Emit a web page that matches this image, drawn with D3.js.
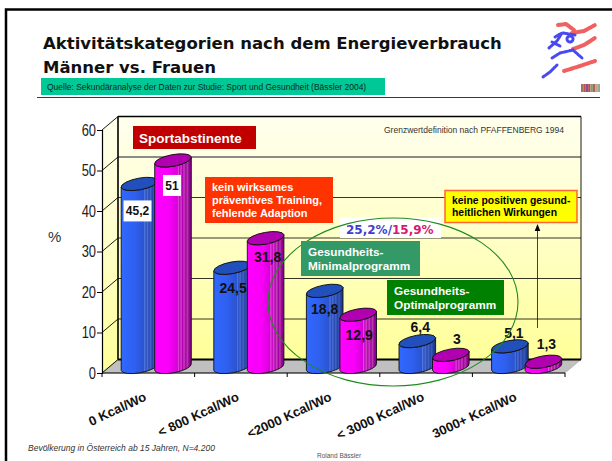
<!DOCTYPE html>
<html>
<head>
<meta charset="utf-8">
<style>
html, body { margin: 0; padding: 0; background: #fff; }
svg { display: block; }
text { font-family: "Liberation Sans", Arial, sans-serif; }
</style>
<script src="https://cdn.jsdelivr.net/npm/d3@7"></script>
</head>
<body>
<div id="chart"></div>
<script>
var categories = ['0 Kcal/Wo', '< 800 Kcal/Wo', '<2000 Kcal/Wo', '< 3000 Kcal/Wo', '3000+ Kcal/Wo'];
var seriesNames = ['Männer', 'Frauen'];
var maleValues = [45.2, 24.5, 18.8, 6.4, 5.1];
var femaleValues = [51, 31.8, 12.9, 3, 1.3];
var yTicks = [0, 10, 20, 30, 40, 50, 60];

var width = 612;
var height = 461;

var svg = d3.select('#chart').append('svg')
    .attr('width', width)
    .attr('height', height);

var defs = svg.append('defs');

function addGradient(id, stops, horizontal) {
    var g = defs.append('linearGradient').attr('id', id)
        .attr('x1', 0).attr('y1', 0)
        .attr('x2', horizontal ? 1 : 0).attr('y2', horizontal ? 0 : 1);
    stops.forEach(function(s) {
        g.append('stop').attr('offset', s[0]).attr('stop-color', s[1]);
    });
}

addGradient('wall', [[0, '#ffffee'], [0.45, '#ffffcc'], [1, '#ffff99']]);
addGradient('blueBar', [[0, '#3068ff'], [0.35, '#2f60f0'], [0.62, '#2a54d0'], [0.64, '#5478dc'], [0.68, '#2a50c4'],
    [0.72, '#4c6ed0'], [0.76, '#2848b8'], [0.8, '#4464c4'], [0.85, '#2444aa'], [0.89, '#3c5ab4'], [0.94, '#20409c'], [1, '#1c3684']], true);
addGradient('pinkBar', [[0, '#ff00ff'], [0.4, '#f800f8'], [0.62, '#d800d8'], [0.64, '#e050d8'], [0.68, '#c400c4'],
    [0.72, '#d048c4'], [0.76, '#b400b4'], [0.8, '#c444b8'], [0.85, '#a400a4'], [0.89, '#b43ca8'], [0.94, '#980098'], [1, '#800080']], true);

// front axis scale, the back wall is this one shifted by depth
var depthX = 16;
var depthY = 13.5;
var y = d3.scaleLinear().domain([0, 60]).range([373, 130]);
var x0 = d3.scaleBand().domain(categories).range([102, 565]);
var x1 = d3.scalePoint().domain(seriesNames).range([37.5, 71]);

var frame = svg.append('g');
frame.append('path')
    .attr('d', 'M6,461V9.5H612')
    .attr('fill', 'none')
    .attr('stroke', '#000')
    .attr('stroke-width', 2.5);

// walls + floor
var wallLeft = x0.range()[0];
var wallRight = x0.range()[1];
var chart = svg.append('g');

chart.append('rect')
    .attr('x', wallLeft + depthX).attr('y', y(60) - depthY)
    .attr('width', wallRight - wallLeft).attr('height', y(0) - y(60))
    .attr('fill', 'url(#wall)');
chart.append('path')
    .attr('d', 'M' + wallLeft + ',' + y(0) + 'V' + y(60) + 'l' + depthX + ',' + (-depthY) + 'V' + (y(0) - depthY) + 'Z')
    .attr('fill', 'url(#wall)');
chart.append('path')
    .attr('d', 'M' + wallLeft + ',' + y(0) + 'H' + wallRight + 'l' + depthX + ',' + (-depthY) + 'H' + (wallLeft + depthX) + 'Z')
    .attr('fill', '#c0c0c0')
    .attr('stroke', '#999')
    .attr('stroke-width', 0.5);

// gridlines
yTicks.forEach(function(t) {
    if (t > 0) {
        chart.append('line')
            .attr('x1', wallLeft + depthX).attr('x2', wallRight + depthX)
            .attr('y1', y(t) - depthY).attr('y2', y(t) - depthY)
            .attr('stroke', t === 50 ? '#666' : '#000')
            .attr('stroke-width', t === 50 ? 1.6 : (t === 60 ? 1.6 : 0.8));
    }
    chart.append('line')
        .attr('x1', wallLeft).attr('x2', wallLeft + depthX)
        .attr('y1', y(t)).attr('y2', y(t) - depthY)
        .attr('stroke', '#000')
        .attr('stroke-width', 0.9);
});
chart.append('line')
    .attr('x1', wallLeft + depthX).attr('x2', wallLeft + depthX)
    .attr('y1', y(60) - depthY).attr('y2', y(0) - depthY)
    .attr('stroke', '#000').attr('stroke-width', 1.6);
chart.append('line')
    .attr('x1', wallRight + depthX).attr('x2', wallRight + depthX)
    .attr('y1', y(60) - depthY).attr('y2', y(0) - depthY)
    .attr('stroke', '#000').attr('stroke-width', 0.9);
chart.append('line')
    .attr('x1', wallLeft + depthX).attr('x2', wallRight + depthX)
    .attr('y1', y(0) - depthY).attr('y2', y(0) - depthY)
    .attr('stroke', '#000').attr('stroke-width', 1.8);

// axes
var narrow = 0.76;
var yAxis = d3.axisLeft(y).tickValues(yTicks).tickSize(5).tickPadding(1);
var yAxisG = svg.append('g')
    .attr('transform', 'translate(' + wallLeft + ',0)')
    .call(yAxis);
yAxisG.select('.domain').attr('stroke', '#000').attr('stroke-width', 1.2);
yAxisG.selectAll('text')
    .attr('x', -6 / narrow)
    .attr('transform', 'scale(' + narrow + ',1)')
    .style('font-size', '17px')
    .attr('fill', '#222');

var tickXs = x0.domain().map(function(c) { return x0(c); }).concat([wallRight]);
svg.selectAll('.xtick').data(tickXs).enter().append('line')
    .attr('class', 'xtick')
    .attr('x1', function(d) { return d; }).attr('x2', function(d) { return d; })
    .attr('y1', y(0)).attr('y2', y(0) + 4)
    .attr('stroke', '#000');
svg.append('line')
    .attr('x1', wallLeft).attr('x2', wallRight)
    .attr('y1', y(0)).attr('y2', y(0))
    .attr('stroke', '#000').attr('stroke-width', 1);

svg.selectAll('.xlabel').data(categories).enter().append('text')
    .attr('class', 'xlabel')
    .attr('text-anchor', 'end')
    .attr('font-weight', 'bold')
    .attr('font-size', 13)
    .attr('fill', '#111')
    .attr('transform', function(d) {
        return 'translate(' + (x0(d) + x0.bandwidth() / 2 - 1) + ',400) rotate(-25)';
    })
    .text(function(d) { return d; });

// cylinders
var halfW = 18.3;
var tiltY = 3.4;
var capR = 5.8;
var tiltDeg = -10.5;
var baseY = y(0) - 6;
var cylH = (y(0) - y(1));

function cylinderBody(cx, topY) {
    var a = Math.sqrt(halfW * halfW + tiltY * tiltY);
    return 'M' + (cx - halfW) + ',' + (topY + tiltY) +
        'V' + (baseY + tiltY) +
        'A' + a + ',' + capR + ' ' + tiltDeg + ' 0 0 ' + (cx + halfW) + ',' + (baseY - tiltY) +
        'V' + (topY - tiltY) +
        'A' + a + ',' + capR + ' ' + tiltDeg + ' 0 1 ' + (cx - halfW) + ',' + (topY + tiltY) + 'Z';
}

var bars = [];
categories.forEach(function(c, i) {
    bars.push({cat: c, series: seriesNames[0], value: maleValues[i], fill: 'url(#blueBar)', cap: '#2150bc'});
    bars.push({cat: c, series: seriesNames[1], value: femaleValues[i], fill: 'url(#pinkBar)', cap: '#b000b0'});
});

function barX(d) { return x0(d.cat) + x1(d.series); }
function barTop(d) { return baseY - d.value * cylH; }

var barG = svg.selectAll('.bar').data(bars).enter().append('g').attr('class', 'bar');
barG.append('path')
    .attr('d', function(d) { return cylinderBody(barX(d), barTop(d)); })
    .attr('fill', function(d) { return d.fill; })
    .attr('stroke', '#111')
    .attr('stroke-width', 0.9);
barG.append('ellipse')
    .attr('rx', Math.sqrt(halfW * halfW + tiltY * tiltY))
    .attr('ry', capR)
    .attr('transform', function(d) {
        return 'translate(' + barX(d) + ',' + barTop(d) + ') rotate(' + tiltDeg + ')';
    })
    .attr('fill', function(d) { return d.cap; })
    .attr('stroke', '#111')
    .attr('stroke-width', 0.9);

// value labels: inside the tall bars, on top of the short ones
var labelShift = [[-2, 27], [-1, 25], [1, 20], [2, 19], [0, 18], [1, 20], [3, -14], [6, -16], [4, -13], [3, -18]];
var labelBoxes = [true, true];

bars.forEach(function(d, i) {
    var lx = barX(d) + labelShift[i][0];
    var ly = barTop(d) + labelShift[i][1];
    if (labelBoxes[i]) {
        var w = i === 0 ? 28 : 18;
        svg.append('rect')
            .attr('x', lx - w / 2).attr('y', ly - 10.5)
            .attr('width', w).attr('height', 21)
            .attr('fill', '#fff');
    }
    svg.append('text')
        .attr('x', lx).attr('y', ly)
        .attr('dy', '0.36em')
        .attr('text-anchor', 'middle')
        .attr('font-weight', 'bold')
        .attr('font-size', i < 2 ? 12 : 14)
        .attr('fill', '#111')
        .text(String(d.value).replace('.', ','));
});

// annotation boxes
function note(o) {
    svg.append('rect')
        .attr('x', o.x).attr('y', o.y).attr('width', o.w).attr('height', o.h)
        .attr('fill', o.fill)
        .attr('stroke', o.stroke || 'none')
        .attr('stroke-width', o.stroke ? 1.5 : 0);
    o.lines.forEach(function(l, i) {
        svg.append('text')
            .attr('x', o.x + o.pad)
            .attr('y', o.first + i * o.lead)
            .attr('font-weight', 'bold')
            .attr('font-size', o.size)
            .attr('fill', o.color)
            .text(l);
    });
}

note({x: 133, y: 126, w: 123, h: 23, fill: '#c00000', color: '#fff', size: 13.5, pad: 6, first: 143, lead: 0, lines: ['Sportabstinente']});
note({x: 205, y: 177, w: 128, h: 46, fill: '#ff3300', color: '#fff', size: 11, pad: 7, first: 191, lead: 13, lines: ['kein wirksames', 'präventives Training,', 'fehlende Adaption']});
note({x: 445, y: 190.5, w: 132, h: 32, fill: '#ffff00', stroke: '#ff6633', color: '#000', size: 10.4, pad: 7, first: 204, lead: 12, lines: ['keine positiven gesund-', 'heitlichen Wirkungen']});

svg.append('text')
    .attr('x', 564).attr('y', 133)
    .attr('text-anchor', 'end')
    .attr('font-size', 8.5)
    .attr('fill', '#333')
    .text('Grenzwertdefinition nach PFAFFENBERG 1994');

// arrow
svg.append('line')
    .attr('x1', 537.5).attr('x2', 537.5)
    .attr('y1', 328).attr('y2', 230)
    .attr('stroke', '#111').attr('stroke-width', 0.8);
svg.append('path')
    .attr('d', 'M537.5,224l-2.8,7h5.6Z')
    .attr('fill', '#000');

svg.append('rect')
    .attr('x', 340).attr('y', 217).attr('width', 101).attr('height', 21)
    .attr('fill', '#fff');

svg.append('ellipse')
    .attr('cx', 393).attr('cy', 302)
    .attr('rx', 125).attr('ry', 84)
    .attr('fill', 'none')
    .attr('stroke', '#1f8a1f')
    .attr('stroke-width', 1.1);

var ratio = svg.append('text')
    .attr('x', 346).attr('y', 233.5)
    .attr('font-weight', 'bold')
    .attr('font-size', 12)
    .style('font-family', '"DejaVu Sans", Verdana, sans-serif');
ratio.append('tspan').attr('fill', '#3f3fcc').text('25,2%/');
ratio.append('tspan').attr('fill', '#d81870').text('15,9%');

note({x: 301, y: 241, w: 119, h: 35, fill: '#339966', color: '#fff', size: 11.8, pad: 7, first: 256, lead: 14, lines: ['Gesundheits-', 'Minimalprogramm']});
note({x: 387, y: 280, w: 117, h: 35, fill: '#008000', color: '#fff', size: 11.8, pad: 7, first: 295, lead: 14, lines: ['Gesundheits-', 'Optimalprogramm']});

// header
var titleLines = ['Aktivitätskategorien nach dem Energieverbrauch', 'Männer vs. Frauen'];
svg.selectAll('.title').data(titleLines).enter().append('text')
    .attr('class', 'title')
    .attr('x', 43)
    .attr('y', function(d, i) { return 49 + i * 24; })
    .attr('font-weight', 'bold')
    .attr('font-size', 16.5)
    .style('font-family', '"DejaVu Sans", Verdana, sans-serif')
    .attr('fill', '#111')
    .text(function(d) { return d; });

svg.append('rect')
    .attr('x', 41).attr('y', 78).attr('width', 344).attr('height', 17)
    .attr('fill', '#00c896');
svg.append('text')
    .attr('x', 47).attr('y', 90)
    .attr('font-size', 8.47)
    .attr('fill', '#062a20')
    .text('Quelle: Sekundäranalyse der Daten zur Studie: Sport und Gesundheit (Bässler 2004)');
svg.append('line')
    .attr('x1', 37).attr('x2', 600)
    .attr('y1', 97.5).attr('y2', 97.5)
    .attr('stroke', '#222').attr('stroke-width', 0.9);

svg.append('text')
    .attr('x', 48).attr('y', 242)
    .attr('font-size', 15)
    .attr('fill', '#333')
    .text('%');

svg.append('text')
    .attr('x', 28).attr('y', 451)
    .attr('font-size', 8.5)
    .attr('font-style', 'italic')
    .attr('fill', '#333')
    .text('Bevölkerung in Österreich ab 15 Jahren, N=4.200');
svg.append('text')
    .attr('x', 317).attr('y', 458)
    .attr('font-size', 6.5)
    .attr('fill', '#555')
    .text('Roland Bässler');

// runner logo, soft like the scaled bitmap
var soft = defs.append('filter').attr('id', 'soft')
    .attr('x', '-20%').attr('y', '-20%').attr('width', '140%').attr('height', '140%');
soft.append('feGaussianBlur').attr('stdDeviation', 0.6);

var logo = svg.append('g').attr('filter', 'url(#soft)')
    .attr('fill', 'none')
    .attr('stroke-linecap', 'round');
var redStrokes = ['M558,25L566,24L574,30', 'M572,33L584,31L595,25', 'M573,49L584,45L595,38', 'M564,71L580,66L595,61'];
var blueStrokes = ['M543,77L550,72L557,65', 'M552,58L560,53L573,50L582,58', 'M549,48L557,41L562,33L555,37',
    'M552,42L560,46', 'M563,33L575,35', 'M567,39a3,3 0 1,0 6,0a3,3 0 1,0 -6,0'];
logo.selectAll('.red').data(redStrokes).enter().append('path')
    .attr('d', function(d) { return d; })
    .attr('stroke', '#f06060').attr('stroke-width', 4).attr('stroke-dasharray', '2 0.8');
logo.selectAll('.blue').data(blueStrokes).enter().append('path')
    .attr('d', function(d) { return d; })
    .attr('stroke', '#4a4af0').attr('stroke-width', 3).attr('stroke-dasharray', '2 0.8');

var stripeColors = ['#99775a', '#c25050', '#7a5a90', '#c25050', '#88a070', '#b06060', '#bbaa70', '#a0a0a0'];
var stripeX = d3.scaleBand().domain(d3.range(stripeColors.length)).range([581, 600]);
svg.append('g').attr('filter', 'url(#soft)').selectAll('rect').data(stripeColors).enter().append('rect')
    .attr('x', function(d, i) { return stripeX(i); })
    .attr('y', 84).attr('height', 8)
    .attr('width', stripeX.bandwidth())
    .attr('fill', function(d) { return d; });
</script>
</body>
</html>
